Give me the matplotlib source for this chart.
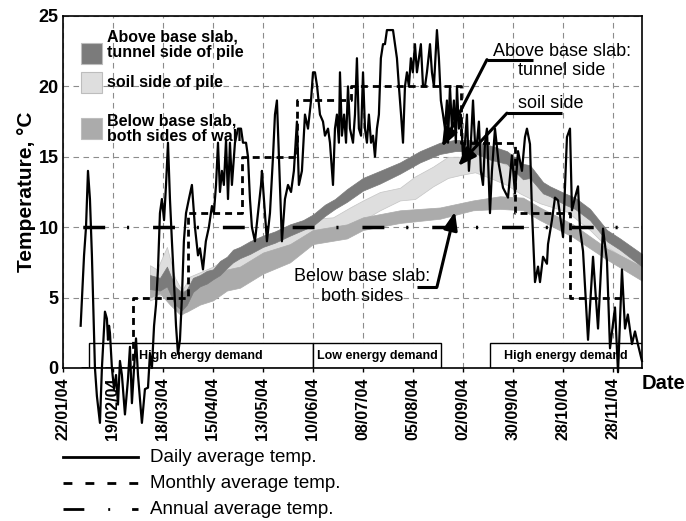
import matplotlib
matplotlib.use("Agg")
import matplotlib.pyplot as plt
from matplotlib.lines import Line2D
from matplotlib.patches import Rectangle

plt.rcParams['font.family'] = ['Liberation Sans', 'DejaVu Sans']

# x axis = days since 22/01/04
tick_days = [0, 28, 56, 84, 112, 140, 168, 196, 224, 252, 280, 308]
tick_labels = ['22/01/04', '19/02/04', '18/03/04', '15/04/04', '13/05/04', '10/06/04',
               '08/07/04', '05/08/04', '02/09/04', '30/09/04', '28/10/04', '28/11/04']

# daily average air temperature
daily_day = [9.9, 11.8, 12.9, 14.0, 15.1, 16.2, 17.9, 19.0, 20.7, 21.8, 23.5, 24.6, 25.2, 25.8,
             26.3, 27.4, 28.6, 29.7, 30.8, 31.9, 33.0, 34.7, 36.4, 37.5, 38.6, 39.8, 40.9, 42.0,
             44.2, 45.9, 47.6, 48.7, 49.8, 51.0, 52.1, 53.2, 54.3, 55.4, 56.6, 57.7, 58.8, 59.9,
             61.0, 62.2, 63.3, 64.4, 65.5, 66.6, 67.7, 68.9, 70.5, 72.2, 73.9, 75.6, 76.7, 78.4,
             80.0, 81.7, 83.4, 84.5, 85.7, 86.8, 87.9, 89.0, 90.1, 91.3, 92.4, 93.5, 94.6, 96.3,
             98.0, 99.7, 100.8, 102.5, 103.6, 104.7, 105.8, 107.5, 109.2, 110.9, 111.4, 112.5,
             114.2, 115.9, 117.6, 118.7, 119.8, 121.5, 122.6, 124.3, 126.0, 127.7, 129.3, 131.0,
             132.1, 133.8, 135.5, 137.2, 138.9, 140.0, 141.1, 142.3, 143.9, 145.6, 146.7, 148.4,
             149.5, 151.2, 152.3, 153.4, 154.5, 155.1, 156.2, 157.4, 158.5, 159.6, 160.7, 162.4,
             163.5, 164.6, 165.7, 166.9, 168.0, 169.1, 170.2, 171.3, 172.5, 173.6, 174.7, 175.8,
             176.9, 178.0, 179.2, 180.3, 181.4, 183.1, 184.8, 185.9, 187.0, 188.1, 189.3, 190.4,
             191.5, 192.6, 193.7, 194.8, 195.9, 197.1, 198.2, 199.3, 200.4, 201.6, 202.7, 203.8,
             205.5, 206.6, 207.7, 209.4, 210.5, 211.6, 212.8, 213.9, 215.0, 215.6, 216.7, 217.8,
             218.9, 220.0, 220.6, 221.7, 222.8, 224.0, 225.1, 226.2, 227.3, 228.4, 229.6, 230.7,
             231.8, 232.9, 234.0, 235.2, 236.3, 237.4, 238.5, 239.1, 240.2, 241.9, 244.0, 246.4,
             249.2, 251.4, 253.1, 254.8, 257.0, 258.7, 259.8, 261.5, 262.6, 264.3, 266.0, 267.1,
             268.8, 271.0, 271.6, 273.8, 275.5, 277.2, 280.0, 282.2, 283.9, 285.0, 286.7, 288.4,
             289.5, 291.2, 294.0, 296.8, 299.6, 302.4, 304.6, 306.3, 309.1, 310.8, 313.0, 314.7,
             316.3, 318.6, 320.3, 321.9, 324.2]
daily_temp = [3.0, 8.0, 10.0, 14.0, 12.0, 8.0, 0.0, -2.0, -3.9, 0.0, 4.0, 3.5, 2.0, 3.0,
              2.5, 0.0, -1.5, -0.5, -2.6, 0.5, -0.5, -3.3, -0.8, 1.5, -2.5, 0.0, 2.1, -0.5,
              -3.9, -1.5, -1.4, 1.0, 0.0, 3.0, 4.5, 7.0, 11.0, 12.0, 10.5, 13.0, 16.0, 12.0,
              9.0, 6.0, 3.0, 1.0, 2.0, 5.0, 9.0, 11.0, 12.0, 13.0, 10.0, 8.0, 8.5, 7.0,
              9.0, 10.0, 11.5, 11.0, 13.0, 16.0, 12.5, 14.0, 13.0, 16.2, 12.0, 16.0, 13.0, 16.0,
              17.0, 17.0, 16.0, 16.0, 15.0, 12.0, 10.0, 9.0, 11.0, 13.0, 14.0, 12.0,
              9.0, 11.0, 15.0, 18.0, 19.0, 13.0, 9.0, 12.0, 13.0, 12.5, 14.0, 17.5,
              13.0, 14.0, 18.0, 17.0, 19.0, 21.0, 21.0, 20.0, 18.0, 17.5, 16.5, 17.0,
              16.0, 13.0, 17.0, 18.0, 16.0, 21.0, 16.5, 18.0, 16.0, 20.0, 17.0, 16.0,
              18.0, 22.0, 17.0, 16.5, 21.0, 17.0, 16.0, 18.0, 16.0, 16.5, 15.0, 17.0,
              18.0, 22.0, 23.0, 23.0, 24.0, 24.0, 24.0, 23.0, 22.0, 20.0, 18.0, 16.0,
              20.0, 21.0, 20.0, 22.0, 21.0, 23.0, 21.0, 22.0, 23.0, 20.0, 20.0, 21.0,
              23.0, 21.0, 20.0, 24.0, 22.0, 19.0, 18.0, 17.0, 19.0, 16.0, 20.0, 17.0,
              19.0, 16.0, 20.0, 17.0, 18.0, 15.0, 16.0, 18.0, 14.0, 16.0, 19.0, 16.0,
              16.0, 17.5, 14.0, 13.0, 16.0, 17.0, 13.0, 11.0, 14.0, 17.0, 14.5, 12.8,
              12.1, 15.1, 12.4, 15.4, 14.0, 16.4, 17.0, 15.9, 11.2, 6.1, 7.2, 6.1,
              7.9, 7.4, 8.8, 10.5, 12.1, 11.9, 9.3, 16.4, 17.0, 11.2, 12.1, 12.9,
              9.9, 8.3, 2.0, 7.9, 2.8, 9.9, 7.6, 1.4, 4.3, -0.3, 7.0, 2.8,
              3.8, 1.7, 2.6, 1.7, 0.5]

# monthly average: month start days (Feb..Dec) and values
month_edges = [10, 39, 70, 100, 131, 161, 192, 223, 253, 284, 314]
month_avg = [0, 5, 11, 15, 19, 20, 20, 16, 11, 5]
annual_avg = 10

# above base slab, tunnel side of pile
tunnel_day = [48.7, 54.3, 58.2, 62.7, 66.6, 69.4, 72.8, 76.7, 80.6, 84.0, 87.9, 91.8, 95.2, 99.1,
              104.7, 112.0, 118.7, 127.1, 134.4, 140.0, 146.7, 152.3, 159.0, 168.0, 177.5, 188.7,
              199.9, 211.1, 219.5, 227.9, 239.1, 248.6, 257.6, 261.5, 268.8, 272.7, 281.1, 286.7,
              295.1, 304.6, 311.9, 324.2]
tunnel_lo = [5.6, 5.5, 5.8, 4.5, 4.1, 4.5, 5.4, 5.8, 6.0, 6.3, 6.6, 7.1, 7.5, 7.8, 8.1, 8.6, 8.9,
             9.4, 9.8, 10.1, 10.8, 11.3, 11.8, 12.6, 13.1, 13.8, 14.6, 15.2, 15.4, 15.4, 14.8, 14.5,
             13.4, 13.5, 12.4, 12.2, 11.6, 11.3, 10.5, 9.0, 8.4, 7.2]
tunnel_hi = [6.6, 6.4, 7.2, 5.8, 5.3, 5.6, 6.4, 6.6, 6.9, 7.0, 7.6, 7.9, 8.4, 8.6, 9.0, 9.4, 9.7,
             10.2, 10.5, 10.9, 11.6, 12.0, 12.7, 13.5, 14.0, 14.6, 15.4, 16.0, 16.2, 16.2, 15.8,
             15.4, 14.5, 14.4, 13.2, 12.9, 12.4, 12.1, 11.3, 9.8, 9.2, 8.1]

# above base slab, soil side of pile
soil_day = [48.7, 52.6, 58.2, 62.7, 66.6, 71.1, 76.7, 84.0, 91.8, 99.1, 112.0, 127.1, 140.0,
            151.2, 160.7, 168.0, 177.5, 188.7, 197.1, 207.2, 215.6, 222.3, 230.7, 239.1, 248.6,
            255.9, 267.1, 282.2, 295.1, 304.6, 324.2]
soil_lo = [4.8, 5.0, 5.5, 4.2, 3.8, 4.3, 5.3, 6.0, 6.5, 7.0, 7.8, 8.7, 9.8, 9.6, 10.2, 10.5, 11.2,
           11.9, 12.0, 12.9, 13.5, 13.7, 13.9, 13.5, 13.0, 12.4, 11.7, 11.1, 9.8, 8.6, 7.0]
soil_hi = [7.3, 7.0, 8.6, 6.4, 5.5, 6.5, 6.8, 7.2, 7.8, 8.2, 8.8, 9.8, 10.6, 10.7, 11.4, 11.9, 12.5,
           12.8, 13.6, 14.3, 15.0, 15.0, 15.3, 15.0, 14.4, 14.0, 12.8, 12.0, 10.8, 9.4, 8.0]

# below base slab, both sides of wall
below_day = [48.7, 54.3, 59.9, 65.5, 69.4, 76.7, 84.0, 91.8, 99.1, 112.0, 127.1, 140.0, 159.0,
             168.0, 188.7, 211.1, 229.6, 244.7, 257.6, 267.1, 285.6, 304.6, 324.2]
below_lo = [5.0, 5.3, 4.5, 3.8, 4.0, 4.5, 4.8, 5.5, 5.7, 6.7, 7.5, 8.8, 9.2, 9.8, 10.3, 10.6, 11.2,
            11.3, 11.2, 10.5, 9.3, 7.7, 6.2]
below_hi = [6.5, 6.3, 6.0, 5.5, 5.5, 6.0, 6.5, 7.0, 7.2, 8.2, 8.8, 9.8, 10.2, 10.7, 11.2, 11.4,
            11.9, 12.2, 12.1, 11.4, 10.2, 8.5, 7.2]

# energy demand periods
demand_start = [14.6, 140.0, 239.1]
demand_end = [140.0, 211.6, 324.2]
demand_label = ['High energy demand', 'Low energy demand', 'High energy demand']

DARK, LIGHT, MID = '#7b7b7b', '#dedede', '#ababab'

fig = plt.figure(figsize=(6.86, 5.21), dpi=100)
ax = fig.add_axes([0.0918, 0.2937, 0.844, 0.6756])

ax.set_xlim(0, 324.2)
ax.set_ylim(0, 25)
ax.set_xticks(tick_days)
ax.set_xticklabels(tick_labels, rotation=90, fontweight='bold', fontsize=11.5)
ax.set_yticks([0, 5, 10, 15, 20, 25])
ax.set_yticklabels(['0', '5', '10', '15', '20', '25'], fontweight='bold', fontsize=13)
ax.tick_params(axis='x', length=3, width=1, pad=4)
ax.tick_params(axis='y', length=0, pad=3)
ax.grid(True, color='#8c8c8c', lw=0.8, linestyle=(0, (5, 4)), zorder=0)
ax.set_axisbelow(True)
for s in ax.spines.values():
    s.set_linewidth(1.2)

ax.set_ylabel('Temperature, \u00b0C', fontweight='bold', fontsize=15, labelpad=2)
ax.text(0.999, -0.045, 'Date', transform=ax.transAxes, fontweight='bold', fontsize=14.5,
        ha='left', va='center')

# sensor bands
ax.fill_between(soil_day, soil_lo, soil_hi, color=LIGHT, ec='#c4c4c4', lw=0.5, zorder=1.2)
ax.fill_between(below_day, below_lo, below_hi, color=MID, ec=MID, lw=0.5, zorder=1.3)
ax.fill_between(tunnel_day, tunnel_lo, tunnel_hi, color=DARK, ec=DARK, lw=0.5, zorder=1.4)

# energy demand boxes
for x0, x1, lab in zip(demand_start, demand_end, demand_label):
    ax.add_patch(Rectangle((x0, 0), x1 - x0, 1.75, facecolor='white', edgecolor='black',
                           lw=1.0, zorder=2))
    ax.text((x0 + x1) / 2, 0.85, lab, ha='center', va='center', fontsize=9,
            fontweight='bold', zorder=2.5)

# air temperature lines
ax.axhline(annual_avg, color='black', lw=2.5, linestyle=(14.4, (6.3, 6.3, 0.6, 6.9)), zorder=3)
ax.step(month_edges, month_avg + [month_avg[-1]], where='post', color='black', lw=2,
        linestyle=(0, (2.5, 1.8)), zorder=3)
ax.plot(daily_day, daily_temp, color='black', lw=1.6, zorder=4, clip_on=False)

# legend inside axes (top left)
leg_items = [(DARK, 0.923, 'Above base slab,\ntunnel side of pile', 0.918),
             (LIGHT, 0.841, 'soil side of pile', 0.81),
             (MID, 0.710, 'Below base slab,\nboth sides of wall', 0.680)]
for col, ytop, lab, ytxt in leg_items:
    ax.add_patch(Rectangle((0.031, ytop - 0.06), 0.036, 0.06, transform=ax.transAxes,
                           facecolor=col, edgecolor='#bdbdbd', lw=0.8, zorder=2))
    ax.text(0.076, ytxt, lab, transform=ax.transAxes, fontsize=11.5, fontweight='bold',
            ha='left', va='center', linespacing=1.0, zorder=2)

# annotations
notes = [('Above base slab:\ntunnel side', (279.4, 21.8), (237.4, 263.2, 21.9), (212.2, 15.7)),
         ('soil side', (273.2, 18.75), (248.6, 279.4, 18.1), (221.2, 14.35)),
         ('Below base slab:\nboth sides', (167.4, 5.8), (209.4, 198.2, 5.75), (219.5, 11.1))]
for txt, (tx, ty), (sx0, sx1, sy), (hx, hy) in notes:
    ax.text(tx, ty, txt, ha='center', va='center', fontsize=13, zorder=5)
    ax.plot([sx0, sx1], [sy, sy], color='black', lw=2.2, zorder=5, solid_capstyle='butt')
    ax.annotate('', xy=(hx, hy), xytext=(sx0, sy),
                arrowprops=dict(arrowstyle='-|>,head_length=0.9,head_width=0.35', lw=2.2,
                                color='black', shrinkA=0, shrinkB=0, mutation_scale=12),
                zorder=5)

# legend for the line styles, below the chart
W, H = 686.0, 521.0
styles = [('-', 'Daily average temp.', 457),
          ((0, (3.2, 4.7)), 'Monthly average temp.', 483),
          ((0, (7.5, 8.6, 0.7, 7.9)), 'Annual average temp.', 509)]
for ls, lab, ypx in styles:
    fig.add_artist(Line2D([63 / W, 138 / W], [1 - ypx / H, 1 - ypx / H], color='black',
                          lw=2, linestyle=ls, transform=fig.transFigure))
    fig.text(150 / W, 1 - ypx / H, lab, fontsize=13.5, ha='left', va='center')

fig.savefig('out.png', dpi=100)
